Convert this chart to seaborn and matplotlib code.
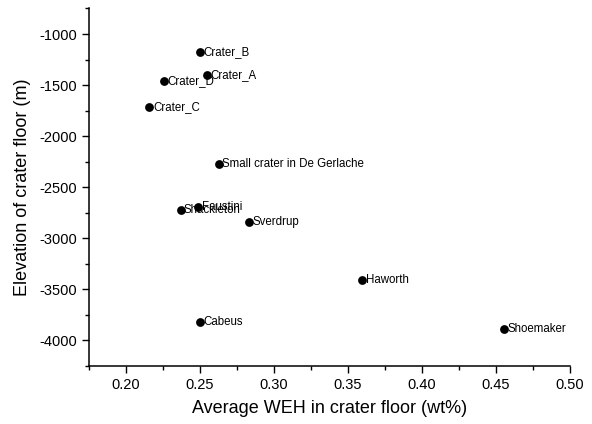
import matplotlib
matplotlib.use("Agg")
import matplotlib.pyplot as plt
import seaborn as sns
import pandas as pd
from matplotlib.ticker import MultipleLocator

# values
craters = ["Crater_B", "Crater_A", "Crater_D", "Crater_C", "Small crater in De Gerlache",
           "Faustini", "Shackleton", "Sverdrup", "Haworth", "Cabeus", "Shoemaker"]
weh = [0.250, 0.255, 0.226, 0.216, 0.263, 0.249, 0.237, 0.283, 0.360, 0.250, 0.456]
elevation = [-1180, -1405, -1464, -1718, -2277, -2690, -2725, -2838, -3410, -3818, -3886]

df = pd.DataFrame({"crater": craters, "weh": weh, "elev": elevation})

sns.set_style("ticks")
plt.rcParams["font.family"] = ["Liberation Sans", "DejaVu Sans"]
plt.rcParams["axes.unicode_minus"] = False
plt.rcParams["text.color"] = "black"
plt.rcParams["axes.labelcolor"] = "black"
plt.rcParams["xtick.color"] = "black"
plt.rcParams["ytick.color"] = "black"

fig = plt.figure(figsize=(5.92, 4.24), dpi=100)
ax = fig.add_axes([0.150, 0.137, 0.812, 0.843])

sns.scatterplot(data=df, x="weh", y="elev", color="black", s=40, edgecolor="black",
                linewidth=0, ax=ax, zorder=3)

for _, row in df.iterrows():
    ax.annotate(row["crater"], (row["weh"], row["elev"]), xytext=(2.5, 0),
                textcoords="offset points", va="center", ha="left", fontsize=8.3,
                color="black")

ax.set_xlim(0.175, 0.50)
ax.set_ylim(-4250, -750)
ax.xaxis.set_minor_locator(MultipleLocator(0.025))
ax.yaxis.set_minor_locator(MultipleLocator(250))
ax.set_xticks([0.20, 0.25, 0.30, 0.35, 0.40, 0.45, 0.50])
ax.set_xticklabels(["0.20", "0.25", "0.30", "0.35", "0.40", "0.45", "0.50"])
ax.set_yticks([-4000, -3500, -3000, -2500, -2000, -1500, -1000])

ax.tick_params(which="major", direction="out", length=5, width=1, labelsize=10.5)
ax.tick_params(which="minor", direction="out", length=3, width=1)
for sp in ["left", "bottom"]:
    ax.spines[sp].set_linewidth(1.1)
    ax.spines[sp].set_color("black")
sns.despine(ax=ax)

ax.set_xlabel("Average WEH in crater floor (wt%)", fontsize=13, labelpad=6)
ax.set_ylabel("Elevation of crater floor (m)", fontsize=13, labelpad=6)

fig.savefig("out.png", dpi=100)
